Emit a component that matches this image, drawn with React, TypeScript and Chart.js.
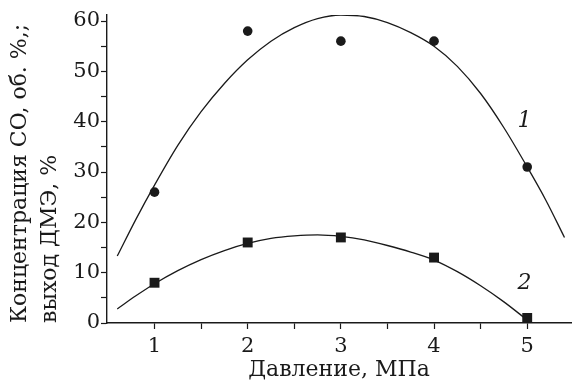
import React, { useEffect, useRef } from 'react';
import { Chart, registerables } from 'chart.js';

Chart.register(...registerables);

// Measured points
const pressure = [1, 2, 3, 4, 5];
const coConcentration = [26, 58, 56, 56, 31];
const dmeYield = [8, 16, 17, 13, 1];

// Fitted curves
const curve1X = [0.6, 0.8, 1.0, 1.25, 1.5, 1.75, 2.0, 2.25, 2.5, 2.75, 3.0, 3.25, 3.5, 3.75, 4.0, 4.25, 4.5, 4.75, 5.0, 5.2, 5.4];
const curve1Y = [13.3, 20.6, 27.4, 35.3, 42.0, 47.6, 52.3, 56.0, 58.7, 60.5, 61.2, 60.9, 59.7, 57.7, 55.0, 51.0, 45.6, 38.8, 31.0, 24.4, 17.0];
const curve2X = [0.6, 0.8, 1.0, 1.25, 1.5, 1.75, 2.0, 2.25, 2.5, 2.75, 3.0, 3.25, 3.5, 3.75, 4.0, 4.25, 4.5, 4.75, 5.0];
const curve2Y = [2.8, 5.4, 7.8, 10.4, 12.6, 14.4, 15.8, 16.8, 17.3, 17.5, 17.2, 16.5, 15.4, 14.1, 12.5, 10.2, 7.4, 4.2, 0.6];

// Axes
const xTickValues = [1, 1.5, 2, 2.5, 3, 3.5, 4, 4.5, 5];
const yTickValues = [0, 5, 10, 15, 20, 25, 30, 35, 40, 45, 50, 55, 60];
const xTitle = 'Давление, МПа';
const yTitle = ['Концентрация CO, об. %,;', 'выход ДМЭ, %'];

// Curve labels
const curveLabels = ['1', '2'];
const curveLabelX = [4.97, 4.97];
const curveLabelY = [40, 7.8];

const SERIF = '"DejaVu Serif", serif';

export default function App() {
  const ref = useRef<HTMLCanvasElement | null>(null);

  useEffect(() => {
    document.body.style.margin = '0';
    const canvas = ref.current;
    if (!canvas) return;

    const labelPlugin = {
      id: 'curveLabels',
      afterDatasetsDraw(chart: any) {
        const { ctx, scales } = chart;
        ctx.save();
        ctx.fillStyle = '#1a1a1a';
        ctx.font = `italic 22px ${SERIF}`;
        ctx.textAlign = 'center';
        ctx.textBaseline = 'middle';
        curveLabels.forEach((t, i) => {
          ctx.fillText(t, scales.x.getPixelForValue(curveLabelX[i]), scales.y.getPixelForValue(curveLabelY[i]));
        });
        ctx.restore();
      },
    };

    const black = '#1a1a1a';

    const chart = new Chart(canvas, {
      type: 'scatter',
      data: {
        datasets: [
          {
            label: 'curve1',
            data: curve1X.map((x, i) => ({ x, y: curve1Y[i] })),
            showLine: true,
            borderColor: black,
            borderWidth: 1.3,
            pointRadius: 0,
            cubicInterpolationMode: 'monotone',
            fill: false,
          },
          {
            label: 'curve2',
            data: curve2X.map((x, i) => ({ x, y: curve2Y[i] })),
            showLine: true,
            borderColor: black,
            borderWidth: 1.3,
            pointRadius: 0,
            cubicInterpolationMode: 'monotone',
            fill: false,
          },
          {
            label: 'CO',
            data: pressure.map((x, i) => ({ x, y: coConcentration[i] })),
            showLine: false,
            pointStyle: 'circle',
            pointRadius: 4.8,
            backgroundColor: black,
            borderColor: black,
            borderWidth: 0,
          },
          {
            label: 'DME',
            data: pressure.map((x, i) => ({ x, y: dmeYield[i] })),
            showLine: false,
            pointStyle: 'rect',
            pointRadius: 7,
            backgroundColor: black,
            borderColor: black,
            borderWidth: 0,
          },
        ],
      } as any,
      options: {
        responsive: false,
        animation: false,
        devicePixelRatio: 1,
        layout: { padding: { top: 15, right: 1, left: 0, bottom: 0 } },
        plugins: {
          legend: { display: false },
          tooltip: { enabled: false },
        },
        scales: {
          x: {
            type: 'linear',
            min: 0.49,
            max: 5.47,
            afterBuildTicks: (axis: any) => {
              axis.ticks = xTickValues.map((v) => ({ value: v }));
            },
            afterFit: (axis: any) => {
              axis.height = 60;
            },
            grid: {
              display: true,
              drawOnChartArea: false,
              drawTicks: true,
              tickLength: 6,
              tickColor: black,
              tickWidth: 1.2,
            },
            border: { display: true, color: black, width: 1.4 },
            ticks: {
              autoSkip: false,
              maxRotation: 0,
              padding: 5,
              color: black,
              font: { family: SERIF, size: 21 },
              callback: (v: any) => (Number.isInteger(Number(v)) ? String(v) : ''),
            },
            title: {
              display: true,
              text: xTitle,
              color: black,
              font: { family: SERIF, size: 22, lineHeight: 1.2 },
              padding: { top: 0, bottom: 0 },
            },
          },
          y: {
            type: 'linear',
            min: 0,
            max: 61.2,
            afterBuildTicks: (axis: any) => {
              axis.ticks = yTickValues.map((v) => ({ value: v }));
            },
            afterFit: (axis: any) => {
              axis.width = 107;
            },
            grid: {
              display: true,
              drawOnChartArea: false,
              drawTicks: true,
              tickLength: 6,
              tickColor: black,
              tickWidth: 1.2,
            },
            border: { display: true, color: black, width: 1.4 },
            ticks: {
              autoSkip: false,
              padding: 1,
              color: black,
              font: { family: SERIF, size: 21 },
              callback: (v: any) => (Number(v) % 10 === 0 ? String(v) : ''),
            },
            title: {
              display: true,
              text: yTitle,
              align: 'start',
              color: black,
              font: { family: SERIF, size: 22, lineHeight: 30 / 22 },
              padding: { top: 5, bottom: 0 },
            },
          },
        },
      } as any,
      plugins: [labelPlugin],
    });

    return () => chart.destroy();
  }, []);

  return (
    <div style={{ width: 578, height: 383, background: '#fff' }}>
      <canvas ref={ref} width={578} height={383} style={{ display: 'block' }} />
    </div>
  );
}
